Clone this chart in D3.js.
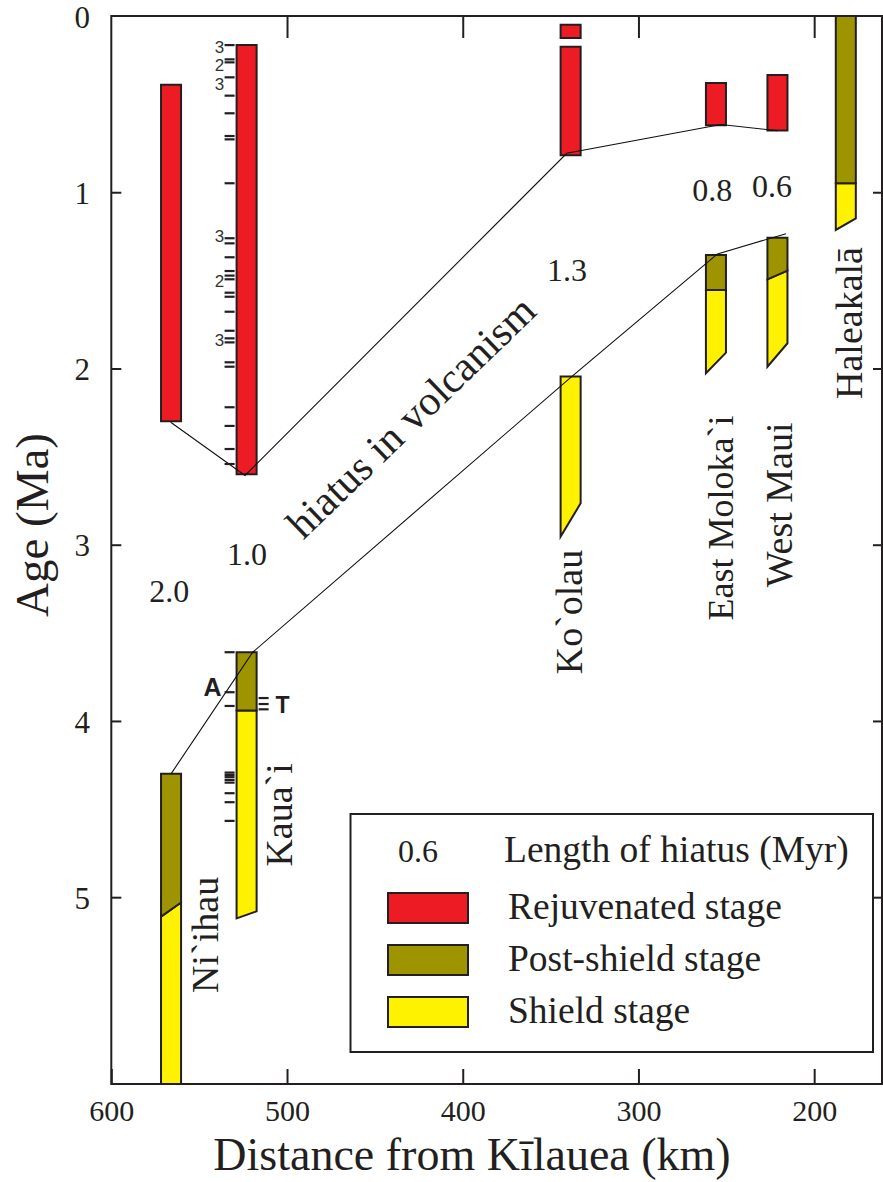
<!DOCTYPE html>
<html>
<head>
<meta charset="utf-8">
<script src="https://cdn.jsdelivr.net/npm/d3@7"></script>
<style>
body { margin: 0; background: #fff; }
svg { display: block; font-family: "Liberation Serif", "Times New Roman", serif; }
</style>
</head>
<body>
<svg id="svg" width="883" height="1182"></svg>
<script>
const volcanoes = ['Ni`ihau', 'Kaua`i', 'Ko`olau', 'East Moloka`i', 'West Maui', 'Haleakalā'];
const distance = [566, 523, 338.6, 255.9, 220.9, 182];

// [volcano, top age, bottom age]
const rejuvenated = [
    [0, 0.39, 2.30],
    [1, 0.165, 2.60],
    [2, 0.05, 0.125],
    [2, 0.175, 0.79],
    [3, 0.38, 0.62],
    [4, 0.335, 0.65]
];
// [volcano, top age, bottom age left, bottom age right]
const postShield = [
    [0, 4.30, 5.11, 5.03],
    [1, 3.61, 3.94, 3.94],
    [3, 1.356, 1.555, 1.555],
    [4, 1.258, 1.494, 1.445],
    [5, 0, 0.949, 0.949]
];
// [volcano, top left, top right, bottom left, bottom right]
const shield = [
    [0, 5.11, 5.03, 6.06, 6.06],
    [1, 3.94, 3.94, 5.12, 5.08],
    [2, 2.046, 2.046, 2.954, 2.765],
    [3, 1.555, 1.555, 2.027, 1.910],
    [4, 1.494, 1.445, 1.990, 1.857],
    [5, 0.949, 0.949, 1.214, 1.148]
];

// hiatus lines [distance, age]
const hiatusUpper = [[566.2, 2.305], [523.9, 2.607], [340.8, 0.779], [253, 0.616], [221, 0.651]];
const hiatusLower = [[566, 4.30], [519.5, 3.61], [338, 2.046], [255, 1.35], [216, 1.235]];
const hiatusLength = ['2.0', '1.0', '1.3', '0.8', '0.6'];
const hiatusLabelPos = [[567, 3.257], [522.8, 3.047], [340.6, 1.441], [258, 0.982], [224, 0.959]];

// Kaua`i sample ages
const kauaiLeft = [0.165, 0.246, 0.263, 0.348, 0.452, 0.552, 0.681, 0.700, 0.949,
    1.261, 1.290, 1.369, 1.447, 1.473, 1.494, 1.570, 1.593, 1.678, 1.786, 1.829, 1.852,
    1.965, 1.990, 2.220, 2.326, 2.457, 2.542,
    3.610, 3.837, 3.915, 4.293, 4.306, 4.319, 4.335, 4.350, 4.410, 4.461, 4.567];
const kauaiRight = [3.870, 3.904, 3.934];
const countLabels = ['3', '2', '3', '3', '2', '3'];
const countAges = [0.175, 0.28, 0.385, 1.248, 1.503, 1.838];

const nameAnchor = [[539.3, 5.214], [497.2, 4.533], [332.1, 3.382], [246.2, 2.848], [212.6, 2.774], [172.7, 1.742]];

const xTicks = [600, 500, 400, 300, 200];
const yTicks = [0, 1, 2, 3, 4, 5];

const legendItems = ['Rejuvenated stage', 'Post-shield stage', 'Shield stage'];
const colors = {rej: '#ed1c24', post: '#9e9400', shield: '#fff200', ink: '#231f20'};

const svg = d3.select('#svg');
const plot = {left: 111.3, right: 882, top: 16, bottom: 1084};

const x = d3.scaleLinear().domain([600, 161.4]).range([plot.left, plot.right]);
const y = d3.scaleLinear().domain([0, 6.06]).range([plot.top, plot.bottom]);
const barKm = 11.4;

function quad(i, tl, tr, bl, br) {
    const xl = x(distance[i] + barKm / 2), xr = x(distance[i] - barKm / 2);
    return 'M' + xl + ',' + y(tl) + 'L' + xr + ',' + y(tr) + 'L' + xr + ',' + y(br) + 'L' + xl + ',' + y(bl) + 'Z';
}

const bars = svg.append('g')
    .attr('stroke', colors.ink)
    .attr('stroke-width', 2);

bars.selectAll('path.shield').data(shield).enter()
    .append('path').attr('class', 'shield')
    .attr('d', d => quad(d[0], d[1], d[2], d[3], d[4]))
    .attr('fill', colors.shield);

bars.selectAll('path.post').data(postShield).enter()
    .append('path').attr('class', 'post')
    .attr('d', d => quad(d[0], d[1], d[1], d[2], d[3]))
    .attr('fill', colors.post);

bars.selectAll('path.rej').data(rejuvenated).enter()
    .append('path').attr('class', 'rej')
    .attr('d', d => quad(d[0], d[1], d[1], d[2], d[2]))
    .attr('fill', colors.rej);

// hiatus lines
const line = d3.line().x(d => x(d[0])).y(d => y(d[1]));
svg.selectAll('path.hiatus').data([hiatusUpper, hiatusLower]).enter()
    .append('path').attr('class', 'hiatus')
    .attr('d', line)
    .attr('fill', 'none')
    .attr('stroke', '#111')
    .attr('stroke-width', 1.1);

// Kaua`i sample ticks
const kLeft = x(distance[1] + barKm / 2), kRight = x(distance[1] - barKm / 2);
const samples = svg.append('g').attr('stroke', colors.ink).attr('stroke-width', 2.2);
samples.selectAll('line.l').data(kauaiLeft).enter()
    .append('line').attr('class', 'l')
    .attr('x1', kLeft - 12).attr('x2', kLeft - 2)
    .attr('y1', d => y(d)).attr('y2', d => y(d));
samples.selectAll('line.r').data(kauaiRight).enter()
    .append('line').attr('class', 'r')
    .attr('x1', kRight + 2).attr('x2', kRight + 12)
    .attr('y1', d => y(d)).attr('y2', d => y(d));

svg.selectAll('text.count').data(countLabels).enter()
    .append('text').attr('class', 'count')
    .attr('x', kLeft - 17)
    .attr('y', (d, i) => y(countAges[i]))
    .attr('dy', '0.36em')
    .attr('text-anchor', 'middle')
    .style('font-family', '"Liberation Sans", Arial, sans-serif')
    .style('font-size', '17px')
    .attr('fill', '#333')
    .text(d => d);

svg.append('text').attr('x', kLeft - 24).attr('y', y(3.81)).attr('dy', '0.36em')
    .attr('text-anchor', 'middle')
    .style('font-family', '"Liberation Sans", Arial, sans-serif')
    .style('font-size', '25px').style('font-weight', 'bold')
    .attr('fill', colors.ink).text('A');
svg.append('text').attr('x', kRight + 26).attr('y', y(3.91)).attr('dy', '0.36em')
    .attr('text-anchor', 'middle')
    .style('font-family', '"Liberation Sans", Arial, sans-serif')
    .style('font-size', '23px').style('font-weight', 'bold')
    .attr('fill', colors.ink).text('T');

// hiatus length labels
svg.selectAll('text.len').data(hiatusLength).enter()
    .append('text').attr('class', 'len')
    .attr('x', (d, i) => x(hiatusLabelPos[i][0]))
    .attr('y', (d, i) => y(hiatusLabelPos[i][1]))
    .attr('dy', '0.36em')
    .attr('text-anchor', 'middle')
    .style('font-size', '32px')
    .attr('fill', colors.ink)
    .text(d => d);

svg.append('text')
    .attr('transform', 'translate(' + x(428.9) + ',' + y(2.281) + ') rotate(-44)')
    .attr('dy', '0.3em')
    .attr('text-anchor', 'middle')
    .style('font-size', '42px')
    .attr('fill', colors.ink)
    .text('hiatus in volcanism');

// volcano names
svg.selectAll('text.name').data(volcanoes).enter()
    .append('text').attr('class', 'name')
    .attr('transform', (d, i) => 'translate(' + x(nameAnchor[i][0]) + ',' + y(nameAnchor[i][1]) + ') rotate(-90)')
    .attr('text-anchor', 'middle')
    .style('font-size', (d, i) => i === 3 ? '36px' : '38px')
    .attr('fill', colors.ink)
    .text(d => d);

// axes
const yAxis = svg.append('g')
    .attr('transform', 'translate(' + plot.left + ',0)')
    .call(d3.axisLeft(y).tickValues(yTicks).tickFormat(d3.format('d')).tickSize(-10).tickSizeOuter(0));
const xAxis = svg.append('g')
    .attr('transform', 'translate(0,' + plot.bottom + ')')
    .call(d3.axisBottom(x).tickValues(xTicks).tickFormat(d3.format('d')).tickSize(-15).tickSizeOuter(0));
const topAxis = svg.append('g')
    .attr('transform', 'translate(0,' + plot.top + ')')
    .call(d3.axisTop(x).tickValues(xTicks.slice(1)).tickSize(-22).tickFormat(''));
const rightAxis = svg.append('g')
    .attr('transform', 'translate(' + plot.right + ',0)')
    .call(d3.axisRight(y).tickValues(yTicks.slice(1)).tickSize(-9).tickFormat(''));

[yAxis, xAxis, topAxis, rightAxis].forEach(a => {
    a.attr('font-family', null);
    a.select('.domain').remove();
    a.selectAll('line').attr('stroke', colors.ink).attr('stroke-width', 2);
});
yAxis.selectAll('.tick').filter(d => d === 0).select('line').remove();
yAxis.selectAll('text')
    .attr('x', -29).attr('dy', '0.36em')
    .attr('text-anchor', 'middle')
    .style('font-family', '"Liberation Serif", serif')
    .style('font-size', '31px').attr('fill', colors.ink);
xAxis.selectAll('text')
    .attr('y', 37).attr('dy', 0)
    .style('font-family', '"Liberation Serif", serif')
    .style('font-size', '30px').attr('fill', colors.ink);

svg.append('rect')
    .attr('x', plot.left).attr('y', plot.top)
    .attr('width', plot.right - plot.left).attr('height', plot.bottom - plot.top)
    .attr('fill', 'none').attr('stroke', colors.ink).attr('stroke-width', 2);

svg.append('text')
    .attr('transform', 'translate(48,525) rotate(-90)')
    .attr('text-anchor', 'middle')
    .style('font-size', '47px').attr('fill', colors.ink)
    .text('Age (Ma)');
svg.append('text')
    .attr('x', 472).attr('y', 1170)
    .attr('text-anchor', 'middle')
    .style('font-size', '46px').attr('fill', colors.ink)
    .text('Distance from Kīlauea (km)');

// legend
const legend = svg.append('g');
legend.append('rect')
    .attr('x', 350.5).attr('y', 814).attr('width', 522.5).attr('height', 238)
    .attr('fill', '#fff').attr('stroke', colors.ink).attr('stroke-width', 2);
legend.append('text').attr('x', 418).attr('y', 862).attr('text-anchor', 'middle')
    .style('font-size', '32px').attr('fill', colors.ink).text('0.6');
legend.append('text').attr('x', 504).attr('y', 862)
    .style('font-size', '37.5px').attr('fill', colors.ink).text('Length of hiatus (Myr)');
const swatchColors = [colors.rej, colors.post, colors.shield];
legend.selectAll('rect.sw').data(legendItems).enter()
    .append('rect').attr('class', 'sw')
    .attr('x', 388).attr('y', (d, i) => 893 + i * 52)
    .attr('width', 80).attr('height', 30)
    .attr('fill', (d, i) => swatchColors[i])
    .attr('stroke', colors.ink).attr('stroke-width', 2);
legend.selectAll('text.li').data(legendItems).enter()
    .append('text').attr('class', 'li')
    .attr('x', 508).attr('y', (d, i) => 919 + i * 52)
    .style('font-size', '37.5px').attr('fill', colors.ink)
    .text(d => d);
</script>
</body>
</html>
